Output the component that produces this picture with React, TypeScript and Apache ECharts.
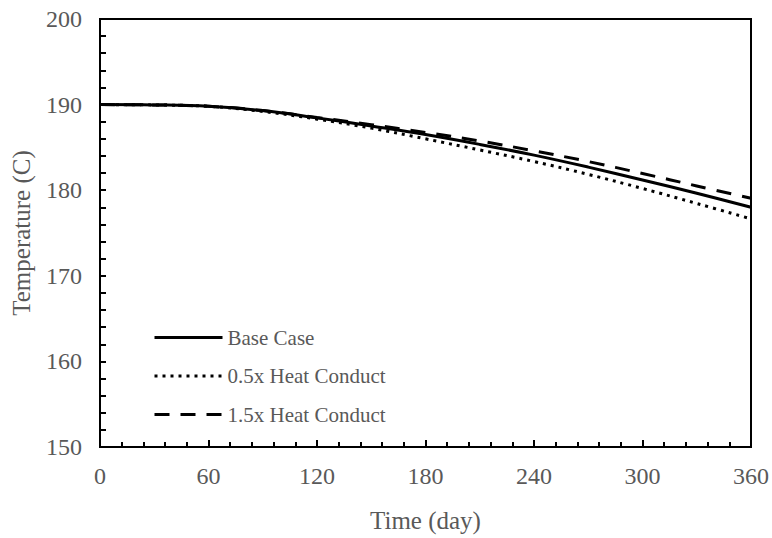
import React, { useEffect, useRef } from "react";
import * as echarts from "echarts";

const days = [0, 30, 60, 90, 120, 150, 180, 210, 240, 270, 300, 330, 360];
const baseCase = [190.0, 189.96, 189.8, 189.3, 188.45, 187.5, 186.5, 185.35, 184.1, 182.7, 181.2, 179.65, 178.0];
const halfConduct = [190.0, 189.96, 189.8, 189.2, 188.3, 187.25, 186.0, 184.7, 183.35, 181.85, 180.2, 178.45, 176.65];
const oneHalfConduct = [190.0, 189.96, 189.8, 189.3, 188.5, 187.65, 186.75, 185.75, 184.6, 183.35, 181.95, 180.5, 179.05];

const seriesNames = ["Base Case", "0.5x Heat Conduct", "1.5x Heat Conduct"];

const pair = (ys: number[]) => days.map((d, i) => [d, ys[i]]);

const FONT = "'Liberation Serif', 'Times New Roman', serif";
const GRAY = "#595959";

export default function App() {
  const ref = useRef<HTMLDivElement>(null);
  useEffect(() => {
    if (!ref.current) return;
    const chart = echarts.init(ref.current, undefined, { renderer: "svg" });
    chart.setOption({
      animation: false,
      backgroundColor: "#ffffff",
      textStyle: { fontFamily: FONT, color: GRAY },
      grid: {
        left: 100,
        right: 20,
        top: 19,
        bottom: 85,
        show: true,
        borderColor: "#000",
        borderWidth: 2,
      },
      legend: {
        orient: "vertical",
        left: 153,
        top: 327,
        padding: 0,
        itemWidth: 68,
        itemHeight: 14,
        itemGap: 17.5,
        data: seriesNames,
        itemStyle: { opacity: 0 },
        lineStyle: { width: 3 },
        textStyle: { fontFamily: FONT, color: GRAY, fontSize: 21, lineHeight: 21 },
      },
      xAxis: {
        type: "value",
        min: 0,
        max: 360,
        interval: 60,
        name: "Time (day)",
        nameLocation: "middle",
        nameGap: 61,
        nameTextStyle: { fontFamily: FONT, color: GRAY, fontSize: 25 },
        axisLine: { show: true, lineStyle: { color: "#000", width: 2 } },
        axisTick: { show: true, inside: true, length: 7, lineStyle: { color: "#000", width: 2 } },
        minorTick: { show: true, splitNumber: 5, length: 5, lineStyle: { color: "#000", width: 2 } },
        axisLabel: { fontFamily: FONT, color: GRAY, fontSize: 24, margin: 17 },
        splitLine: { show: false },
      },
      yAxis: {
        type: "value",
        min: 150,
        max: 200,
        interval: 10,
        name: "Temperature (C)",
        nameLocation: "middle",
        nameGap: 66,
        nameTextStyle: { fontFamily: FONT, color: GRAY, fontSize: 25 },
        axisLine: { show: true, lineStyle: { color: "#000", width: 2 } },
        axisTick: { show: true, inside: true, length: 6, lineStyle: { color: "#000", width: 2 } },
        minorTick: { show: true, splitNumber: 5, length: 6, lineStyle: { color: "#000", width: 2 } },
        axisLabel: { fontFamily: FONT, color: GRAY, fontSize: 24, margin: 18 },
        splitLine: { show: false },
      },
      series: [
        {
          name: seriesNames[0],
          type: "line",
          data: pair(baseCase),
          smooth: 0.4,
          symbol: "none",
          lineStyle: { color: "#000", width: 3, type: "solid" },
          itemStyle: { color: "#000" },
        },
        {
          name: seriesNames[1],
          type: "line",
          data: pair(halfConduct),
          smooth: 0.4,
          symbol: "none",
          lineStyle: { color: "#000", width: 3, type: [3, 5] },
          itemStyle: { color: "#000" },
        },
        {
          name: seriesNames[2],
          type: "line",
          data: pair(oneHalfConduct),
          smooth: 0.4,
          symbol: "none",
          lineStyle: { color: "#000", width: 3, type: [15, 11] },
          itemStyle: { color: "#000" },
        },
      ],
    });
    return () => chart.dispose();
  }, []);
  return <div ref={ref} style={{ width: 772, height: 538, position: "absolute", left: 0, top: 0 }} />;
}
